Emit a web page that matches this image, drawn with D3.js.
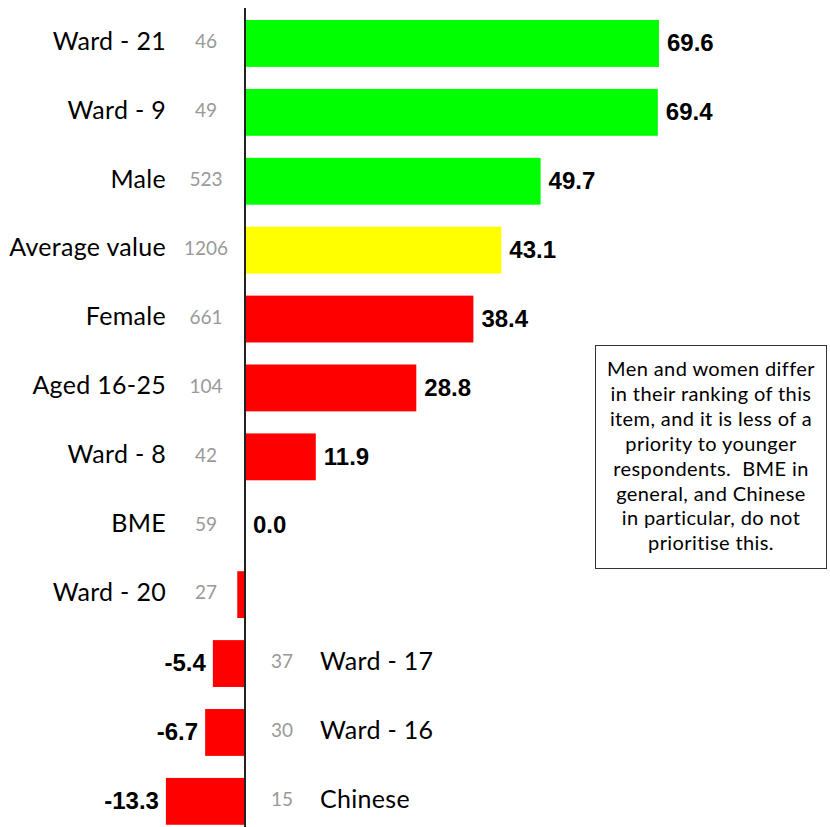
<!DOCTYPE html>
<html>
<head>
<meta charset="utf-8">
<script src="https://cdn.jsdelivr.net/npm/d3@7"></script>
<style>
  body { margin: 0; background: #fff; }
</style>
</head>
<body>
<div id="chart"></div>
<script>
var categories = ["Ward - 21", "Ward - 9", "Male", "Average value", "Female", "Aged 16-25",
                  "Ward - 8", "BME", "Ward - 20", "Ward - 17", "Ward - 16", "Chinese"];
var counts = [46, 49, 523, 1206, 661, 104, 42, 59, 27, 37, 30, 15];
var values = [69.6, 69.4, 49.7, 43.1, 38.4, 28.8, 11.9, 0.0, -1.3, -5.4, -6.7, -13.3];
var showValue = [true, true, true, true, true, true, true, true, false, true, true, true];
var note = ["Men and women differ", "in their ranking of this", "item, and it is less of a",
            "priority to younger", "respondents.  BME in", "general, and Chinese",
            "in particular, do not", "prioritise this."];

var width = 830, height = 827;
var avg = values[categories.indexOf("Average value")];

var data = categories.map(function(c, i) {
  return {cat: c, n: counts[i], v: values[i], show: showValue[i]};
});

var svg = d3.select("#chart").append("svg")
  .attr("width", width)
  .attr("height", height);

var x = d3.scaleLinear()
  .domain([0, 70])
  .range([245, 245 + 70 * 5.948]);

var y = d3.scaleBand()
  .domain(categories)
  .range([9, 835.8])
  .paddingInner(0.32)
  .paddingOuter(0.16);

var color = function(d) {
  if (d.cat == "Average value") return "#FFFF00";
  return d.v > avg ? "#00FF00" : "#FF0000";
};

svg.selectAll(".bar")
  .data(data)
  .enter().append("rect")
    .attr("class", "bar")
    .attr("x", function(d) { return x(Math.min(0, d.v)); })
    .attr("y", function(d) { return y(d.cat); })
    .attr("width", function(d) { return Math.abs(x(d.v) - x(0)); })
    .attr("height", y.bandwidth())
    .attr("fill", color);

// labels go on the left unless the bar is far enough negative
var leftSide = function(d) { return d.v > -3; };

var row = svg.selectAll(".row")
  .data(data)
  .enter().append("g")
    .attr("class", "row")
    .attr("transform", function(d) { return "translate(0," + (y(d.cat) + y.bandwidth() / 2) + ")"; });

row.append("text")
    .attr("x", function(d) { return leftSide(d) ? 166 : 320; })
    .attr("dy", "0.25em")
    .attr("text-anchor", function(d) { return leftSide(d) ? "end" : "start"; })
    .style("font", "25px Lato, 'Noto Sans', sans-serif")
    .style("letter-spacing", "0.3px")
    .attr("fill", "#000")
    .text(function(d) { return d.cat; });

row.append("text")
    .attr("x", function(d) { return leftSide(d) ? 206 : 282; })
    .attr("dy", "0.25em")
    .attr("text-anchor", "middle")
    .style("font", "19px Lato, 'Noto Sans', sans-serif")
    .attr("fill", "#999")
    .text(function(d) { return d.n; });

row.filter(function(d) { return d.show; }).append("text")
    .attr("x", function(d) { return d.v >= 0 ? x(d.v) + 8 : x(d.v) - 7; })
    .attr("dy", "0.32em")
    .attr("text-anchor", function(d) { return d.v >= 0 ? "start" : "end"; })
    .style("font", "bold 24px 'Liberation Sans', Arial, sans-serif")
    .attr("fill", "#000")
    .text(function(d) { return d.v.toFixed(1); });

svg.append("line")
    .attr("x1", x(0)).attr("x2", x(0))
    .attr("y1", 8).attr("y2", height)
    .attr("stroke", "#222")
    .attr("stroke-width", 2);

var box = svg.append("g").attr("transform", "translate(595,345)");
box.append("rect")
    .attr("x", 0.5).attr("y", 0.5)
    .attr("width", 231).attr("height", 223)
    .attr("fill", "#fff")
    .attr("stroke", "#333")
    .attr("stroke-width", 1);

box.selectAll("text")
  .data(note)
  .enter().append("text")
    .attr("x", 116)
    .attr("y", function(d, i) { return 31 + i * 24.9; })
    .attr("text-anchor", "middle")
    .style("font", "20px Lato, 'Noto Sans', sans-serif")
    .style("letter-spacing", "0.4px")
    .style("white-space", "pre")
    .attr("fill", "#000")
    .text(function(d) { return d; });
</script>
</body>
</html>
